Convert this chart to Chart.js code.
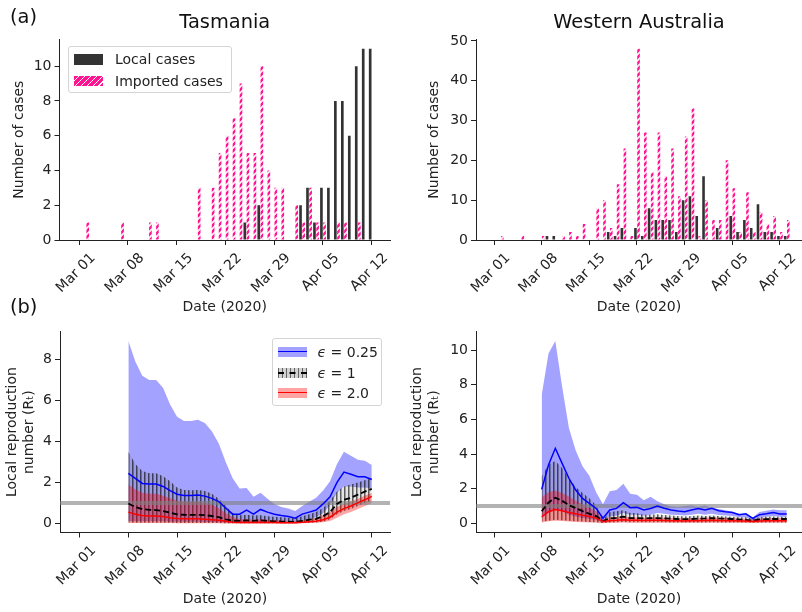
<!DOCTYPE html>
<html>
<head>
<meta charset="utf-8">
<script src="https://cdn.jsdelivr.net/npm/chart.js@4.4.1/dist/chart.umd.min.js"></script>
<style>
  body { margin: 0; background: #fff; font-family: "DejaVu Sans", sans-serif; color: #222; }
  #fig { position: relative; width: 802px; height: 612px; overflow: hidden; }
  canvas { position: absolute; }
  .panel { position: absolute; font-size: 19.4px; line-height: 20px; color: #111; }
  .legend { position: absolute; box-sizing: border-box; border: 1px solid #d4d4d4; border-radius: 3px; background: rgba(255,255,255,0.85); font-size: 14px; }
  .patch { position: absolute; left: 5px; width: 29px; height: 10px; }
  .txt { position: absolute; white-space: nowrap; line-height: 16px; }
  .mid { position: absolute; left: 0; right: 0; top: 4px; height: 0; }
</style>
</head>
<body>
<div id="fig">
  <canvas id="tasCases" width="401" height="320" style="left:0;top:0"></canvas>
  <canvas id="waCases" width="401" height="320" style="left:401px;top:0"></canvas>
  <canvas id="tasRt" width="401" height="292" style="left:0;top:320px"></canvas>
  <canvas id="waRt" width="401" height="292" style="left:401px;top:320px"></canvas>

  <div class="panel" style="left:10px;top:7px">(a)</div>
  <div class="panel" style="left:10px;top:297px">(b)</div>

  <div class="legend" style="left:68px;top:46px;width:164px;height:47px">
    <div class="patch" style="top:7px;height:10.5px;background:#333"></div>
    <div class="txt" style="left:46px;top:4px">Local cases</div>
    <div class="patch" style="top:28.5px;height:10.5px;background:repeating-linear-gradient(135deg,#ff1493 0 3px,#fff 3px 4.2px)"></div>
    <div class="txt" style="left:46px;top:25.5px">Imported cases</div>
  </div>

  <div class="legend" style="left:271.5px;top:338px;width:110.5px;height:68px">
    <div class="patch" style="top:7.5px;background:rgba(0,0,255,0.36)"><div class="mid" style="border-top:1.5px solid #00f;top:4.2px"></div></div>
    <div class="txt" style="left:45px;top:4.5px"><i>ϵ</i> = 0.25</div>
    <div class="patch" style="top:28.5px;background:repeating-linear-gradient(90deg,rgba(0,0,0,0.6) 0 1.5px,rgba(128,128,128,0.35) 1.5px 4px)"><div class="mid" style="border-top:2px dashed #000;top:4px"></div></div>
    <div class="txt" style="left:45px;top:25.5px"><i>ϵ</i> = 1</div>
    <div class="patch" style="top:49px;background:rgba(255,0,0,0.36)"><div class="mid" style="border-top:1.5px solid #f00;top:4.2px"></div></div>
    <div class="txt" style="left:45px;top:46px"><i>ϵ</i> = 2.0</div>
  </div>
</div>

<script>
// Days are counted from Mar 01 2020 (day 0)
const tickDays = [0, 7, 14, 21, 28, 35, 42]
const tickLabels = ["Mar 01", "Mar 08", "Mar 15", "Mar 22", "Mar 29", "Apr 05", "Apr 12"]

// Daily case counts, Feb 28 .. Apr 13
const barStartDay = -2
const tasLocal = [0, 0,
  0, 0, 0, 0, 0, 0, 0,
  0, 0, 0, 0, 0, 0, 0,
  0, 0, 0, 0, 0, 0, 0,
  0, 0, 0, 1, 0, 2, 0,
  0, 0, 0, 0, 2, 3, 1,
  3, 3, 8, 8, 6, 10, 11,
  11, 0]
const tasImported = [0, 0,
  0, 1, 0, 0, 0, 0, 1,
  0, 0, 0, 1, 1, 0, 0,
  0, 0, 0, 3, 0, 3, 5,
  6, 7, 9, 5, 5, 10, 4,
  3, 3, 0, 2, 1, 3, 1,
  1, 0, 1, 1, 0, 1, 0,
  0, 0]
const waLocal = [0, 0,
  0, 0, 0, 0, 0, 0, 0,
  0, 1, 1, 0, 0, 0, 0,
  0, 0, 0, 2, 1, 3, 0,
  3, 1, 8, 5, 5, 5, 2,
  10, 11, 6, 16, 0, 3, 0,
  6, 2, 5, 3, 9, 2, 2,
  1, 1]
const waImported = [0, 0,
  0, 1, 0, 0, 1, 0, 0,
  1, 0, 0, 1, 2, 1, 4,
  0, 8, 10, 3, 14, 23, 1,
  48, 27, 17, 27, 16, 23, 11,
  26, 33, 1, 10, 5, 5, 20,
  13, 2, 12, 2, 7, 4, 6,
  2, 5]

// Local reproduction number, Tasmania Mar 08 .. Apr 12
const tasRtStart = 7
const tasBlueLow = [0.12, 0.1, 0.1, 0.1, 0.1, 0.1, 0.08, 0.08, 0.08, 0.08, 0.08, 0.07, 0.07, 0.06, 0.05, 0.04,
  0.03, 0.04, 0.03, 0.04, 0.03, 0.03, 0.03, 0.03, 0.03, 0.1, 0.2, 0.3,
  0.5, 0.9, 1.5, 1.8, 1.8, 1.75, 1.75, 1.7]
const tasBlueUp = [8.9, 7.9, 7.2, 7.0, 7.0, 6.6, 5.8, 5.2, 5.0, 5.0,
  5.05, 4.9, 4.5, 3.9, 3.0, 2.2, 1.7, 1.72, 1.3, 1.5,
  1.2, 0.95, 0.8, 0.72, 0.6, 0.85, 1.05, 1.25, 1.6, 2.05,
  2.9, 3.5, 3.3, 3.1, 3.05, 2.85]
const tasBlueMid = [2.44, 2.2, 1.95, 1.92, 1.92, 1.8, 1.6, 1.42, 1.36, 1.36,
  1.38, 1.33, 1.22, 1.06, 0.75, 0.45, 0.45, 0.65, 0.45, 0.68,
  0.55, 0.45, 0.38, 0.33, 0.25, 0.45, 0.55, 0.65, 0.95, 1.3,
  2.0, 2.5, 2.4, 2.28, 2.27, 2.14]
const tasBlackLow = [0.04, 0.03, 0.03, 0.03, 0.03, 0.03, 0.03, 0.02, 0.02, 0.02,
  0.02, 0.02, 0.02, 0.02, 0.01, 0.01, 0.01, 0.01, 0.01, 0.01,
  0.01, 0.01, 0.01, 0.01, 0.01, 0.02, 0.03, 0.04,
  0.08, 0.2, 0.45, 0.6, 0.7, 0.85, 1.0, 1.1]
const tasBlackUp = [3.5, 2.9, 2.55, 2.45, 2.45, 2.3, 2.05, 1.75, 1.63, 1.62,
  1.63, 1.58, 1.45, 1.2, 0.85, 0.5, 0.4, 0.42, 0.38, 0.4,
  0.35, 0.32, 0.3, 0.27, 0.25, 0.35, 0.45, 0.55, 0.75, 1.1,
  1.55, 1.8, 1.9, 2.0, 2.1, 2.2]
const tasBlackMid = [0.97, 0.8, 0.7, 0.66, 0.65, 0.6, 0.52, 0.44, 0.42, 0.41,
  0.42, 0.4, 0.36, 0.3, 0.2, 0.13, 0.12, 0.14, 0.12, 0.15,
  0.12, 0.1, 0.09, 0.08, 0.07, 0.12, 0.18, 0.22, 0.35, 0.55,
  0.95, 1.15, 1.25, 1.4, 1.55, 1.68]
const tasRedLow = [0.02, 0.02, 0.02, 0.02, 0.02, 0.02, 0.02, 0.01, 0.01, 0.01,
  0.01, 0.01, 0.01, 0.01, 0, 0, 0, 0, 0, 0,
  0, 0, 0, 0, 0, 0.01, 0.02, 0.03,
  0.06, 0.12, 0.28, 0.45, 0.55, 0.7, 0.85, 1.0]
const tasRedUp = [1.9, 1.65, 1.5, 1.45, 1.45, 1.35, 1.22, 1.1, 1.05, 1.05,
  1.05, 1.0, 0.92, 0.75, 0.5, 0.3, 0.2, 0.2, 0.18, 0.2,
  0.18, 0.15, 0.14, 0.12, 0.1, 0.15, 0.2, 0.25, 0.4, 0.55,
  0.8, 0.95, 1.05, 1.2, 1.35, 1.48]
const tasRedMid = [0.55, 0.45, 0.38, 0.36, 0.36, 0.33, 0.28, 0.24, 0.22, 0.22,
  0.22, 0.2, 0.18, 0.15, 0.1, 0.06, 0.04, 0.05, 0.04, 0.05,
  0.04, 0.04, 0.03, 0.03, 0.03, 0.05, 0.08, 0.1, 0.18, 0.3,
  0.55, 0.72, 0.85, 1.0, 1.15, 1.32]

// Local reproduction number, Western Australia Mar 08 .. Apr 13
const waRtStart = 7
const waBlueLow = [0.3, 0.6, 0.8, 0.7, 0.5, 0.4, 0.3, 0.25, 0.2, 0.05,
  0.4, 0.45, 0.6, 0.5, 0.5, 0.45, 0.5, 0.6, 0.55, 0.5,
  0.48, 0.45, 0.5, 0.55, 0.5, 0.55, 0.48, 0.45, 0.42, 0.35,
  0.35, 0.15, 0.32, 0.38, 0.42, 0.38, 0.38]
const waBlueUp = [7.4, 9.8, 10.53, 7.9, 5.5, 4.2, 3.3, 2.75, 1.8, 1.1,
  1.85, 1.92, 2.28, 1.7, 1.65, 1.33, 1.54, 1.28, 1.1, 0.98,
  0.95, 1.0, 1.05, 0.95, 1.05, 0.88, 0.82, 0.75, 0.68, 0.55,
  0.55, 0.35, 0.65, 0.72, 0.8, 0.76, 0.76]
const waBlueMid = [1.96, 3.37, 4.33, 3.46, 2.6, 1.92, 1.44, 1.15, 0.86, 0.29,
  0.77, 0.86, 1.19, 0.9, 0.92, 0.77, 0.86, 1.0, 0.87, 0.77,
  0.71, 0.67, 0.77, 0.85, 0.77, 0.87, 0.73, 0.67, 0.62, 0.5,
  0.55, 0.29, 0.5, 0.55, 0.62, 0.54, 0.54]
const waBlackLow = [0.1, 0.15, 0.2, 0.18, 0.15, 0.12, 0.1, 0.08, 0.06, 0.02,
  0.05, 0.06, 0.07, 0.06, 0.06, 0.06, 0.06, 0.06, 0.06, 0.05,
  0.05, 0.05, 0.05, 0.05, 0.05, 0.06, 0.05, 0.05, 0.05, 0.05,
  0.04, 0.03, 0.04, 0.05, 0.05, 0.05, 0.05]
const waBlackUp = [2.7, 3.4, 3.6, 3.2, 2.6, 2.1, 1.75, 1.45, 1.05, 0.2,
  0.65, 0.7, 0.75, 0.6, 0.58, 0.5, 0.5, 0.52, 0.48, 0.45,
  0.42, 0.4, 0.42, 0.45, 0.42, 0.45, 0.42, 0.4, 0.38, 0.35,
  0.35, 0.25, 0.35, 0.38, 0.4, 0.38, 0.38]
const waBlackMid = [0.7, 1.2, 1.48, 1.3, 1.05, 0.88, 0.7, 0.55, 0.42, 0.13,
  0.28, 0.32, 0.38, 0.3, 0.3, 0.28, 0.3, 0.3, 0.28, 0.27,
  0.25, 0.24, 0.25, 0.27, 0.28, 0.3, 0.28, 0.27, 0.25, 0.22,
  0.2, 0.15, 0.22, 0.24, 0.25, 0.25, 0.25]
const waRedLow = [0.05, 0.12, 0.15, 0.13, 0.1, 0.08, 0.06, 0.05, 0.04, 0.01,
  0.03, 0.03, 0.04, 0.03, 0.03, 0.03, 0.03, 0.03, 0.03, 0.03,
  0.03, 0.03, 0.03, 0.03, 0.03, 0.03, 0.03, 0.03, 0.03, 0.03,
  0.02, 0.02, 0.02, 0.03, 0.03, 0.03, 0.03]
const waRedUp = [1.5, 1.8, 1.9, 1.75, 1.55, 1.3, 1.1, 0.9, 0.7, 0.2,
  0.35, 0.37, 0.4, 0.35, 0.33, 0.32, 0.33, 0.33, 0.32, 0.3,
  0.3, 0.28, 0.3, 0.3, 0.32, 0.33, 0.32, 0.3, 0.3, 0.28,
  0.27, 0.2, 0.27, 0.3, 0.3, 0.3, 0.3]
const waRedMid = [0.38, 0.67, 0.8, 0.72, 0.62, 0.55, 0.47, 0.4, 0.3, 0.1,
  0.15, 0.17, 0.2, 0.17, 0.17, 0.16, 0.17, 0.17, 0.16, 0.15,
  0.15, 0.14, 0.15, 0.15, 0.16, 0.17, 0.16, 0.15, 0.15, 0.14,
  0.13, 0.1, 0.14, 0.15, 0.15, 0.15, 0.15]

const rtThreshold = 1

Chart.defaults.font.family = "'DejaVu Sans', sans-serif"
Chart.defaults.font.size = 14
Chart.defaults.color = "#222"

const ink = "#222"
const blueFill = "rgba(0, 0, 255, 0.36)"
const redFill = "rgba(255, 0, 0, 0.36)"

function series(start, values) {
  return values.map((v, i) => ({ x: start + i, y: v }))
}

function pinkHatch(ctx) {
  const c = document.createElement("canvas")
  c.width = 6
  c.height = 6
  const g = c.getContext("2d")
  g.fillStyle = "#fff0f7"
  g.fillRect(0, 0, 6, 6)
  g.strokeStyle = "#ff1493"
  g.lineWidth = 2.6
  g.beginPath()
  for (const k of [0, 6, 12]) {
    g.moveTo(-1, k + 1)
    g.lineTo(7, k - 7)
  }
  g.stroke()
  return ctx.createPattern(c, "repeat")
}

function stripeHatch(ctx) {
  const c = document.createElement("canvas")
  c.width = 4
  c.height = 4
  const g = c.getContext("2d")
  g.fillStyle = "rgba(110, 110, 110, 0.18)"
  g.fillRect(0, 0, 4, 4)
  g.fillStyle = "rgba(0, 0, 0, 0.6)"
  g.fillRect(0, 0, 1, 4)
  g.fillStyle = "rgba(0, 0, 0, 0.3)"
  g.fillRect(1, 0, 1, 4)
  return ctx.createPattern(c, "repeat")
}

function xAxis(range, height) {
  return {
    type: "linear",
    offset: false,
    min: range[0],
    max: range[1],
    afterBuildTicks: s => { s.ticks = tickDays.map(v => ({ value: v })) },
    afterFit: s => { s.height = height },
    grid: { drawOnChartArea: false, offset: false, tickLength: 5, tickColor: ink, tickWidth: 1 },
    border: { display: true, color: ink, width: 1 },
    ticks: {
      autoSkip: false,
      minRotation: 45,
      maxRotation: 45,
      padding: 5,
      labelOffset: 14,
      color: ink,
      callback: (v, i) => tickLabels[i]
    },
    title: { display: true, text: "Date (2020)", color: ink, padding: { top: 0, bottom: 4 } }
  }
}

function yAxis(min, max, ticksList, width, title, titlePad) {
  return {
    min: min,
    max: max,
    afterBuildTicks: s => { s.ticks = ticksList.map(v => ({ value: v })) },
    afterFit: s => { s.width = width },
    grid: { drawOnChartArea: false, tickLength: 5, tickColor: ink, tickWidth: 1 },
    border: { display: true, color: ink, width: 1 },
    ticks: { padding: 3, color: ink, callback: v => String(v) },
    title: { display: true, text: title, color: ink, padding: { top: titlePad, bottom: 0 } }
  }
}

function casesChart(id, name, local, imported, xRange, yMax, yTicks, yWidth, titlePad, padRight) {
  const ctx = document.getElementById(id).getContext("2d")
  return new Chart(ctx, {
    type: "bar",
    data: {
      datasets: [
        {
          label: "Local cases",
          data: series(barStartDay, local),
          backgroundColor: "#333333",
          borderWidth: 0,
          categoryPercentage: 0.9,
          barPercentage: 0.85
        },
        {
          label: "Imported cases",
          data: series(barStartDay, imported),
          backgroundColor: pinkHatch(ctx),
          borderWidth: 0,
          categoryPercentage: 0.9,
          barPercentage: 0.85
        }
      ]
    },
    options: {
      responsive: false,
      animation: false,
      devicePixelRatio: 1,
      layout: { padding: { left: 0, right: padRight, top: 0, bottom: 0 } },
      plugins: {
        legend: { display: false },
        tooltip: { enabled: false },
        title: {
          display: true,
          text: name,
          fullSize: false,
          color: "#111",
          font: { size: 19.4, weight: "normal" },
          padding: { top: 10.9, bottom: 5.1 }
        }
      },
      scales: {
        x: xAxis(xRange, 80),
        y: yAxis(0, yMax, yTicks, yWidth, "Number of cases", titlePad)
      }
    }
  })
}

function rtChart(id, start, bands, xRange, yRange, yTicks, yWidth, titlePad, padRight) {
  const ctx = document.getElementById(id).getContext("2d")
  const plain = { borderWidth: 0, pointRadius: 0, fill: false, order: 10 }
  return new Chart(ctx, {
    type: "line",
    data: {
      datasets: [
        { ...plain, data: series(start, bands.blueLow) },
        { data: series(start, bands.blueUp), fill: "-1", backgroundColor: blueFill, borderWidth: 0, pointRadius: 0, order: 9 },
        { ...plain, data: series(start, bands.blackLow) },
        { data: series(start, bands.blackUp), fill: "-1", backgroundColor: stripeHatch(ctx), borderWidth: 0, pointRadius: 0, order: 8 },
        { ...plain, data: series(start, bands.redLow) },
        { data: series(start, bands.redUp), fill: "-1", backgroundColor: redFill, borderWidth: 0, pointRadius: 0, order: 7 },
        {
          data: [{ x: xRange[0], y: rtThreshold }, { x: xRange[1], y: rtThreshold }],
          borderColor: "rgba(128, 128, 128, 0.6)", borderWidth: 4, pointRadius: 0, fill: false, order: 6
        },
        { data: series(start, bands.blueMid), borderColor: "#0000ff", borderWidth: 1.5, pointRadius: 0, fill: false, order: 3 },
        { data: series(start, bands.blackMid), borderColor: "#000000", borderWidth: 1.8, borderDash: [6, 3], pointRadius: 0, fill: false, order: 2 },
        { data: series(start, bands.redMid), borderColor: "#ff0000", borderWidth: 1.5, pointRadius: 0, fill: false, order: 1 }
      ]
    },
    options: {
      responsive: false,
      animation: false,
      devicePixelRatio: 1,
      layout: { padding: { left: 0, right: padRight, top: 11.7, bottom: 0 } },
      plugins: {
        legend: { display: false },
        tooltip: { enabled: false }
      },
      scales: {
        x: xAxis(xRange, 79.5),
        y: yAxis(yRange[0], yRange[1], yTicks, yWidth, ["Local reproduction", "number (R\u209c)"], titlePad)
      }
    }
  })
}

const tasRange = [-2.83, 44.62]
const waRange = [-2.65, 45.24]

casesChart("tasCases", "Tasmania", tasLocal, tasImported, tasRange, 11.55, [0, 2, 4, 6, 8, 10], 59.5, 10.8, 11)
casesChart("waCases", "Western Australia", waLocal, waImported, waRange, 50.4, [0, 10, 20, 30, 40, 50], 75, 24.8, 0)

rtChart("tasRt", tasRtStart, {
  blueLow: tasBlueLow, blueUp: tasBlueUp, blueMid: tasBlueMid,
  blackLow: tasBlackLow, blackUp: tasBlackUp, blackMid: tasBlackMid,
  redLow: tasRedLow, redUp: tasRedUp, redMid: tasRedMid
}, tasRange, [-0.445, 9.35], [0, 2, 4, 6, 8], 60, 4.1, 11)

rtChart("waRt", waRtStart, {
  blueLow: waBlueLow, blueUp: waBlueUp, blueMid: waBlueMid,
  blackLow: waBlackLow, blackUp: waBlackUp, blackMid: waBlackMid,
  redLow: waRedLow, redUp: waRedUp, redMid: waRedMid
}, waRange, [-0.53, 11.06], [0, 2, 4, 6, 8, 10], 75, 8.4, 0)
</script>
</body>
</html>
